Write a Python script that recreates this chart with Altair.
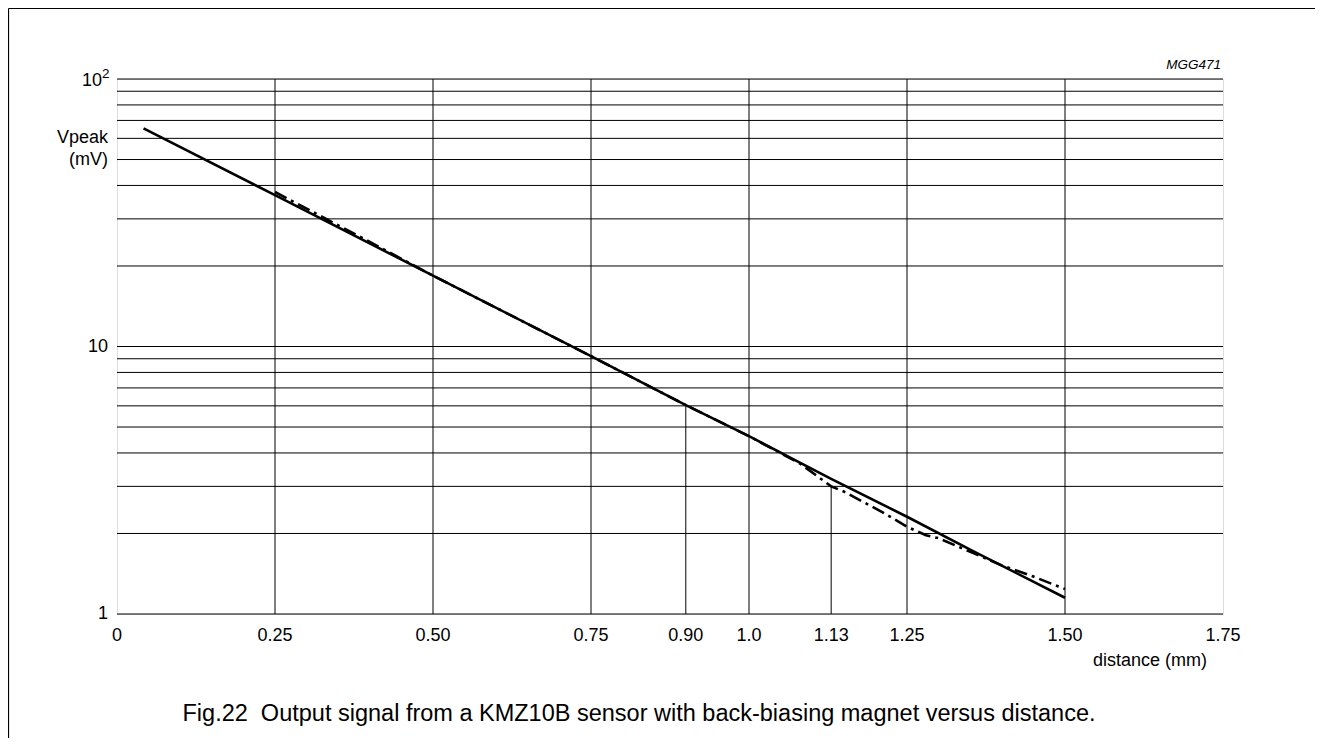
import altair as alt
import pandas as pd

# ---- data ----
solid_x = [0.042, 0.25, 0.50, 0.75, 0.90, 1.00, 1.13, 1.25, 1.35, 1.50]
solid_y = [65.4, 36.8, 18.4, 9.2, 6.04, 4.62, 3.2, 2.31, 1.74, 1.15]

dashdot_x = [0.25, 0.40, 0.50, 0.75, 0.90, 1.00, 1.08, 1.13, 1.15, 1.21, 1.25, 1.28, 1.30, 1.355, 1.40, 1.45, 1.50]
dashdot_y = [37.8, 24.6, 18.4, 9.2, 6.04, 4.62, 3.66, 3.0, 2.87, 2.41, 2.12, 1.97, 1.92, 1.69, 1.52, 1.38, 1.24]

y_grid = [1, 2, 3, 4, 5, 6, 7, 8, 9, 10, 20, 30, 40, 50, 60, 70, 80, 90, 100]
x_grid_full = [0.25, 0.50, 0.75, 1.00, 1.25, 1.50]
x_grid_partial = [0.90, 1.13]
x_grid_partial_top = [6.04, 3.0]

x_tick_vals = [0, 0.25, 0.50, 0.75, 0.90, 1.0, 1.13, 1.25, 1.50, 1.75]
x_tick_labels = ["0", "0.25", "0.50", "0.75", "0.90", "1.0", "1.13", "1.25", "1.50", "1.75"]
y_tick_vals = [1, 10]
y_tick_labels = ["1", "10"]
y_top_val = [100]
y_top_base = ["10"]
y_top_exp = ["2"]

W, H = 1106, 535
FONT = "Liberation Sans"

x_scale = alt.Scale(domain=[0, 1.75], nice=False, zero=False)
y_scale = alt.Scale(type="log", domain=[1, 100], nice=False)

solid_df = pd.DataFrame({"x": solid_x, "y": solid_y})
dd_df = pd.DataFrame({"x": dashdot_x, "y": dashdot_y})
yg_df = pd.DataFrame({"v": y_grid})
xg_df = pd.DataFrame({"v": x_grid_full})
xp_df = pd.DataFrame({"v": x_grid_partial, "top": x_grid_partial_top})
xt_df = pd.DataFrame({"v": x_tick_vals, "t": x_tick_labels})
yt_df = pd.DataFrame({"v": y_tick_vals, "t": y_tick_labels})
ytop_df = pd.DataFrame({"v": y_top_val, "t": y_top_base, "e": y_top_exp})

base_blank = alt.Chart(pd.DataFrame({"a": [0]}))

ygrid = alt.Chart(yg_df).mark_rule(color="black", strokeWidth=1).encode(
    y=alt.Y("v:Q", scale=y_scale, axis=None), x=alt.value(0), x2=alt.value(W))
xgrid = alt.Chart(xg_df).mark_rule(color="black", strokeWidth=1).encode(
    x=alt.X("v:Q", scale=x_scale, axis=None), y=alt.value(0), y2=alt.value(H))
xpart = alt.Chart(xp_df).mark_rule(color="black", strokeWidth=1).encode(
    x=alt.X("v:Q", scale=x_scale, axis=None),
    y=alt.Y("top:Q", scale=y_scale, axis=None), y2=alt.value(H))

line_solid = alt.Chart(solid_df).mark_line(color="black", strokeWidth=2.6).encode(
    x=alt.X("x:Q", scale=x_scale, axis=None), y=alt.Y("y:Q", scale=y_scale, axis=None))
line_dd = alt.Chart(dd_df).mark_line(color="black", strokeWidth=2.6, strokeDash=[13, 5, 3, 5]).encode(
    x=alt.X("x:Q", scale=x_scale, axis=None), y=alt.Y("y:Q", scale=y_scale, axis=None))

xlabels = alt.Chart(xt_df).mark_text(font=FONT, fontSize=18, align="center", baseline="middle", color="black").encode(
    x=alt.X("v:Q", scale=x_scale, axis=None), y=alt.value(H + 22), text="t:N")
ylabels = alt.Chart(yt_df).mark_text(font=FONT, fontSize=18, align="right", baseline="middle", color="black").encode(
    y=alt.Y("v:Q", scale=y_scale, axis=None), x=alt.value(-9), text="t:N")
ytop = alt.Chart(ytop_df).mark_text(font=FONT, fontSize=18, align="right", baseline="middle", color="black", dy=2).encode(
    y=alt.Y("v:Q", scale=y_scale, axis=None), x=alt.value(-15), text="t:N")
ysup = alt.Chart(ytop_df).mark_text(font=FONT, fontSize=13.5, align="left", baseline="middle", color="black", dy=-5).encode(
    y=alt.Y("v:Q", scale=y_scale, axis=None), x=alt.value(-15), text="e:N")


def label(txt, x, y, size=18, align="left", style="normal"):
    return base_blank.mark_text(font=FONT, fontSize=size, align=align, baseline="middle",
                                color="black", fontStyle=style).encode(
        x=alt.value(x), y=alt.value(y), text=alt.value(txt))


vpeak = label("Vpeak", -9, 59, align="right")
mv = label("(mV)", -9, 81, align="right")
xtitle = label("distance (mm)", 1090, 582, align="right")
code = label("MGG471", 1104, -14, size=13.5, align="right", style="italic")
caption = label("Fig.22\u00a0 Output signal from a KMZ10B sensor with back-biasing magnet versus distance.",
                522, 635, size=23.5, align="center")

frame_left = base_blank.mark_rule(color="black", strokeWidth=1.2).encode(
    x=alt.value(-108.5), y=alt.value(-70.5), y2=alt.value(H + 124))
frame_top = base_blank.mark_rule(color="black", strokeWidth=1.2).encode(
    x=alt.value(-108.5), x2=alt.value(W + 120), y=alt.value(-70.5))

chart = alt.layer(
    ygrid, xgrid, xpart, line_dd, line_solid,
    xlabels, ylabels, ytop, ysup, vpeak, mv, xtitle, code, caption, frame_left, frame_top
).properties(
    width=W, height=H,
    padding={"left": 109, "top": 71, "right": 92, "bottom": 125},
    autosize=alt.AutoSizeParams(type="none"),
).configure_view(stroke="black", strokeWidth=1.2).configure(background="white")

chart.save("out.html", embed_options={"renderer": "svg", "actions": False})
